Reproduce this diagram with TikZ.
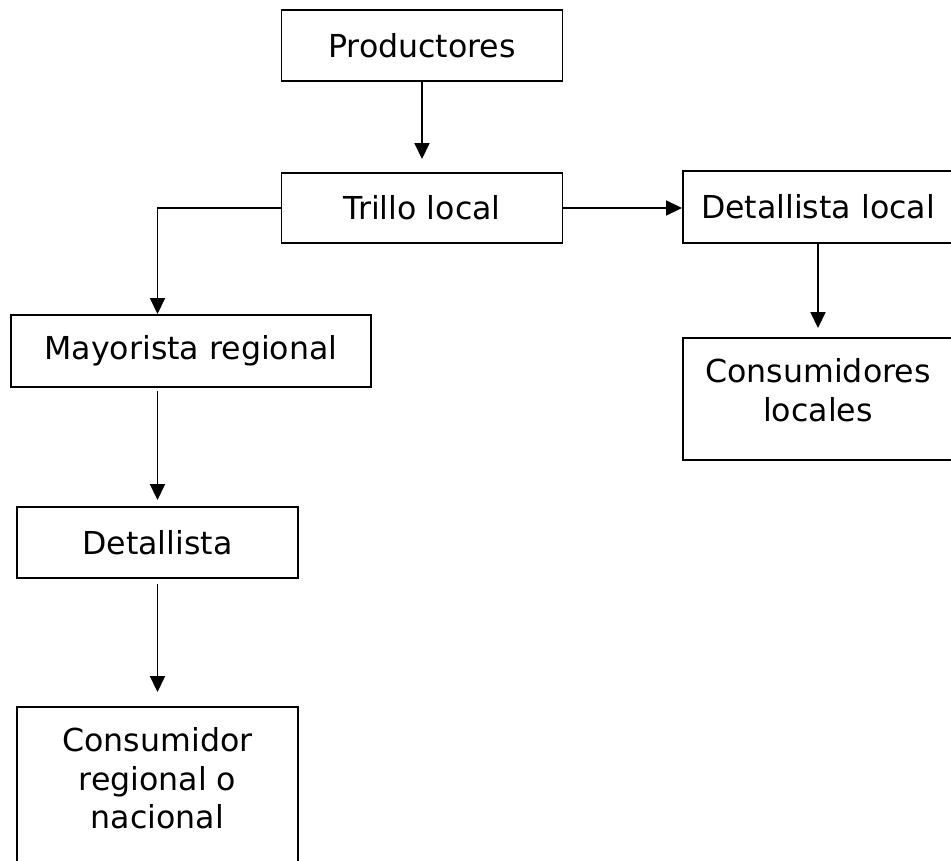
\documentclass[tikz,border=0pt]{standalone}
\usepackage{fontspec}
\setmainfont{DejaVu Sans}
\usetikzlibrary{positioning,calc,arrows.meta}

\begin{document}
\begin{tikzpicture}
                    [x=0.02cm,y=-0.02cm,>={Triangle[length=0.32cm,width=0.3cm]},
                     stage/.style={draw,line width=1.1pt,inner sep=0pt,align=center,
                                   font=\fontsize{18}{22}\selectfont},
                     toptext/.style={anchor=north,yshift=-0.42cm,inner sep=0pt,align=center,
                                     font=\fontsize{18}{22}\selectfont},
                     link/.style={->,line width=1pt}]

                    \useasboundingbox (0,0) rectangle (951,861);

                    \node[stage,minimum width=5.62cm,minimum height=1.42cm] (prod) at (422,45.5) {Productores};
                    \node[stage,minimum width=5.62cm,minimum height=1.4cm] (trillo) at (422,208) {Trillo local};
                    \node[stage,minimum width=5.4cm,minimum height=1.44cm] (detloc) at (818,207) {Detallista local};
                    \node[stage,minimum width=5.4cm,minimum height=2.44cm,
                          label={[toptext]north:Consumidores\\locales}] (conloc) at (818,399) {};
                    \node[stage,minimum width=7.2cm,minimum height=1.44cm] (mayor) at (191,351) {Mayorista regional};
                    \node[stage,minimum width=5.62cm,minimum height=1.42cm] (det) at (157.5,542.5) {Detallista};
                    \node[stage,minimum width=5.62cm,minimum height=3.46cm,
                          label={[toptext]north:Consumidor\\regional o\\nacional}] (cons) at (157.5,793.5) {};

                    \draw[link,shorten >=0.26cm] (prod.south) -- (trillo.north);
                    \draw[link] (trillo.west) -| (mayor.north -| det.north);
                    \draw[link] (trillo.east) -- (trillo.east -| detloc.west);
                    \draw[link,shorten >=0.18cm] (detloc.south) -- (conloc.north);
                    \draw[link,shorten <=0.06cm,shorten >=0.12cm] (mayor.south -| det.north) -- (det.north);
                    \draw[link,shorten <=0.1cm,shorten >=0.28cm] (det.south) -- (cons.north);

                \end{tikzpicture}
\end{document}
